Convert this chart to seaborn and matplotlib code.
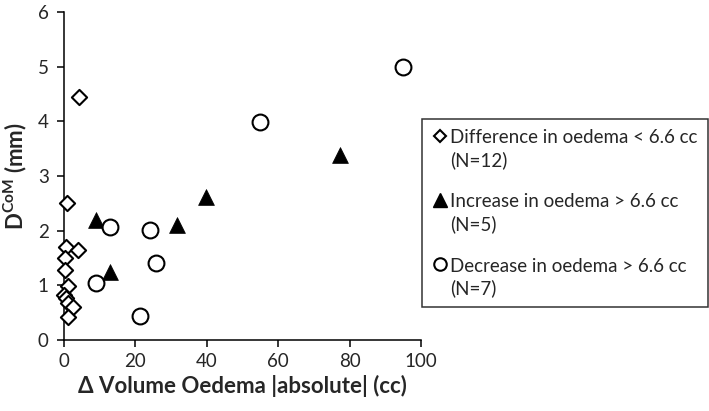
import numpy as np
import pandas as pd
import matplotlib
matplotlib.use("Agg")
import matplotlib.pyplot as plt
import seaborn as sns
from matplotlib.lines import Line2D

# data
diff_x = [4.2, 0.8, 0.6, 3.9, 0.2, 0.3, 1.0, 0.1, 0.6, 1.0, 2.6, 1.2]
diff_y = [4.44, 2.5, 1.71, 1.64, 1.5, 1.28, 0.99, 0.82, 0.77, 0.68, 0.61, 0.42]
inc_x = [9.1, 12.8, 31.7, 39.9, 77.2]
inc_y = [2.2, 1.25, 2.1, 2.62, 3.38]
dec_x = [12.8, 24.2, 25.9, 9.1, 21.2, 54.8, 94.9]
dec_y = [2.07, 2.02, 1.40, 1.05, 0.44, 3.98, 5.0]

labels = ["Difference in oedema < 6.6 cc\n(N=12)",
          "Increase in oedema > 6.6 cc\n(N=5)",
          "Decrease in oedema > 6.6 cc\n(N=7)"]

sns.set_theme(style="white")
plt.rcParams["font.family"] = ["Lato", "DejaVu Sans"]
plt.rcParams["mathtext.fontset"] = "custom"
plt.rcParams["mathtext.bf"] = "Lato:bold"
plt.rcParams["mathtext.rm"] = "Lato"

fig = plt.figure(figsize=(7.09, 4.11), dpi=100)
ax = fig.add_axes([64 / 709, 1 - 340 / 411, (421 - 64) / 709, (340 - 12) / 411])

sns.scatterplot(x=diff_x, y=diff_y, marker="D", s=60, facecolor="white",
                edgecolor="black", linewidth=1.5, ax=ax, zorder=3, clip_on=False)
sns.scatterplot(x=inc_x, y=inc_y, marker="^", s=130, color="black",
                edgecolor="black", linewidth=0.5, ax=ax, zorder=3, clip_on=False)
sns.scatterplot(x=dec_x, y=dec_y, marker="o", s=130, facecolor="white",
                edgecolor="black", linewidth=1.5, ax=ax, zorder=3, clip_on=False)

ax.set_xlim(0, 100)
ax.set_ylim(0, 6)
ax.set_xticks(np.arange(0, 101, 20))
ax.set_yticks(np.arange(0, 7, 1))
ax.tick_params(axis="both", direction="out", length=5, width=1.1, color="black",
               labelsize=13.5, pad=4, bottom=True, left=True)
ax.tick_params(axis="y", pad=6)
for side in ["top", "right"]:
    ax.spines[side].set_visible(False)
for side in ["left", "bottom"]:
    ax.spines[side].set_color("black")
    ax.spines[side].set_linewidth(1.1)

ax.set_xlabel("Δ Volume Oedema |absolute| (cc)", fontsize=16, fontweight="bold", labelpad=4)
ax.set_ylabel(r"$\mathbf{D^{CoM}}$ (mm)", fontsize=16, fontweight="bold", labelpad=6)

handles = [
    Line2D([], [], ls="none", marker="D", ms=6.5, mfc="white", mec="black", mew=1.5),
    Line2D([], [], ls="none", marker="^", ms=10, mfc="black", mec="black"),
    Line2D([], [], ls="none", marker="o", ms=9, mfc="white", mec="black", mew=1.5),
]
leg = fig.legend(handles, labels, loc="upper left", bbox_to_anchor=(422 / 709, 1 - 119 / 411),
                 fontsize=13.5, frameon=True, fancybox=False, edgecolor="black",
                 handlelength=0.8, handletextpad=0.15, labelspacing=1.32,
                 borderpad=0.55, borderaxespad=0)
leg.get_frame().set_linewidth(1.1)
for t in leg.get_texts():
    t.set_linespacing(1.3)
for col in leg._legend_handle_box.get_children():
    for row in col.get_children():
        row.align = "top"

fig.savefig("out.png", dpi=100)
